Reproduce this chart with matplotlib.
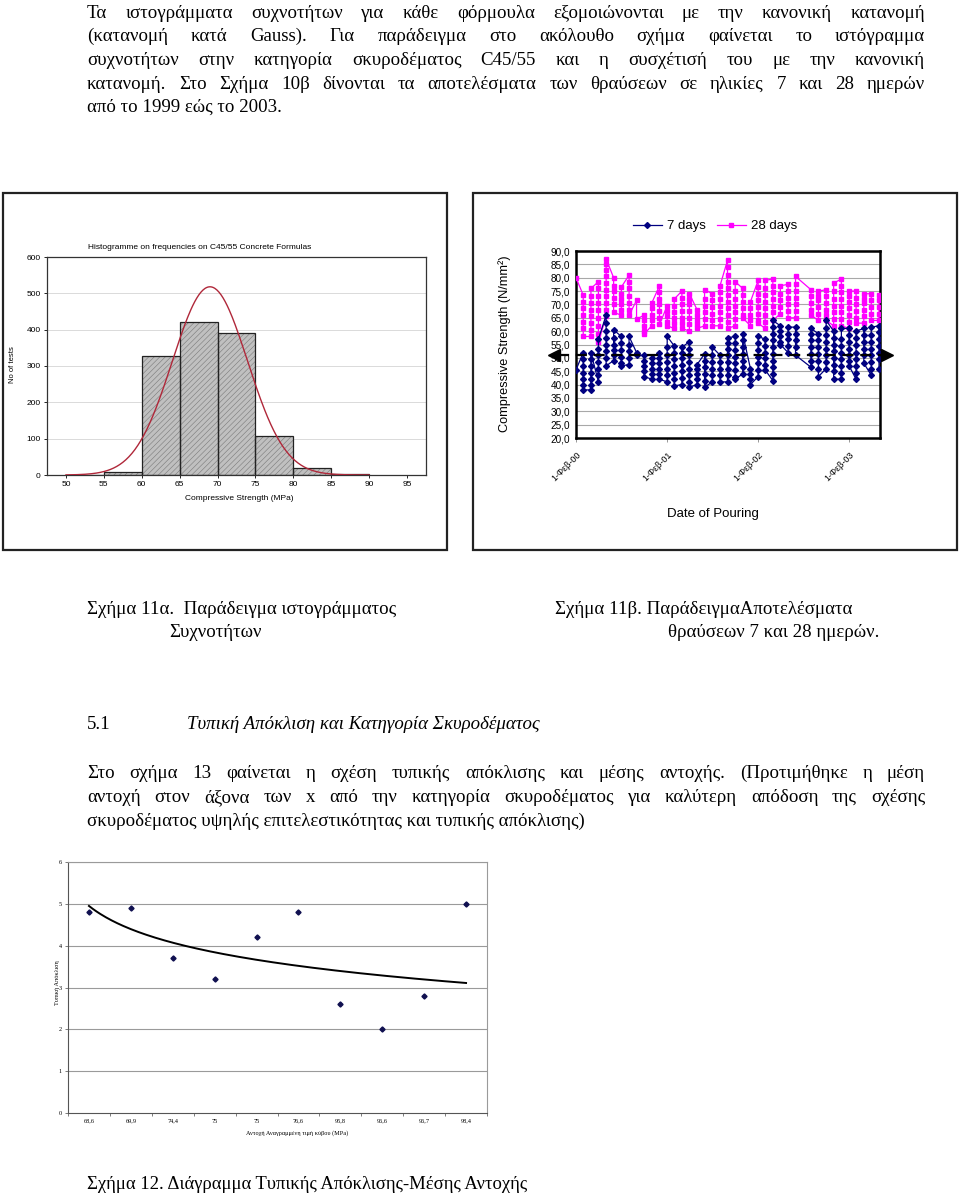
import matplotlib
matplotlib.use('Agg')
import matplotlib.pyplot as plt
import matplotlib.patches as patches
import matplotlib.dates as mdates
import matplotlib.transforms as mtransforms
import numpy as np
import pandas as pd

W, H = 960, 1195

# ---- histogram data (Fig 11a)
bin_edges = [50, 55, 60, 65, 70, 75, 80, 85, 90]
bin_counts = [1, 7, 328, 420, 392, 107, 20, 2]
fit_mean = 69.0
fit_sd = 4.95
fit_peak = 518

# ---- 7 / 28 day results (Fig 11b), month offset from 1-Feb-2000
months_28 = [0, 1, 2, 3, 4, 5, 6, 7, 8, 9, 10, 11, 12, 13, 14, 15, 16, 17, 18, 19, 20,
             21, 22, 23, 24, 25, 26, 27, 28, 29, 31, 32, 33, 34, 35, 36, 37, 38, 39, 40]
vals_28 = [
    [80.0], [73.5, 71, 68.5, 66, 63.5, 61, 58], [58, 60.5, 63, 65.5, 68, 70.5, 73, 76], [78.5, 76, 73, 70.5, 68, 65, 62, 59, 56],
    [65.5, 68, 70.5, 73, 75.5, 78, 80.5, 83, 85, 87], [80, 77, 75, 72.5, 70, 67], [66, 68, 70, 72, 74, 76.5], [81, 78.5, 76, 73, 70.5, 68, 66],
    [71.5, 64.5], [66, 64, 62, 60, 59], [62, 64, 66, 68.5, 70.5], [77, 74.5, 72, 70, 67.5, 65, 62.5],
    [69.5, 67.5, 65.5, 63.5, 62], [61, 63, 65, 67, 69.5, 72], [75, 72.5, 70, 67.5, 65, 63, 61], [60, 62.5, 65, 67.5, 70, 72, 74],
    [68, 66, 64, 62.5, 61], [62, 64.5, 67, 69.5, 72, 75.5], [74, 71.5, 69, 66.5, 64, 62], [62, 64.5, 67, 69.5, 72, 74.5, 77],
    [86.5, 84, 81, 78.5, 76, 73.5, 71, 68.5, 66, 63.5, 61], [62, 64.5, 67, 69.5, 72, 75, 78.5], [76, 73.5, 71, 68.5, 66, 65], [62, 64, 66, 68.5, 71],
    [79, 76.5, 74, 71.5, 69, 66.5, 64, 63], [61, 63.5, 66, 68.5, 71, 73.5, 76, 79], [79.5, 77, 74.5, 72, 69.5, 67, 64], [66.5, 69, 71.5, 74, 77],
    [77.5, 75, 72.5, 70, 67.5, 65], [65, 67.5, 70, 72.5, 75, 77.5, 80.5], [75.5, 73, 70.5, 68, 66], [64, 66.5, 69, 71.5, 73, 75],
    [75.5, 73, 70.5, 68, 66, 64], [62, 64.5, 67, 69.5, 72, 75, 78], [79.5, 77, 74.5, 72, 69.5, 67, 64.5, 62], [61, 63.5, 66, 68.5, 71, 73, 75],
    [75, 72.5, 70, 67.5, 65, 63], [63, 65.5, 68, 70.5, 72, 74], [74, 71.5, 69, 66.5, 64], [64, 66.5, 69, 71.5, 73.5],
]
months_7 = months_28
vals_7 = [
    [45.5], [52, 49.5, 47, 44.5, 42, 40, 38], [38, 40, 42, 44.5, 47, 49.5, 52], [41, 43.5, 46, 48.5, 51, 53.5, 57],
    [66, 63, 60, 57.5, 55, 52.5, 50, 47], [49, 51, 53, 55, 57.5, 60.5], [58, 55.5, 53, 50.5, 48, 47], [47.5, 50, 52.5, 55, 58],
    [52, 51], [51, 49, 47, 45, 43], [42, 44, 46, 48, 50], [52, 50, 48, 46, 44, 42],
    [41, 43.5, 46, 48.5, 51, 54, 58], [54.5, 52, 49.5, 47, 44.5, 42, 39.5], [40, 42.5, 45, 47.5, 50, 52, 54], [56, 53.5, 51, 48.5, 46, 43.5, 41, 39],
    [40, 42, 44, 46, 47.5], [51.5, 49, 46.5, 44, 41.5, 39], [41, 43.5, 46, 48.5, 51, 54], [51, 48.5, 46, 43.5, 41],
    [41, 43.5, 46, 48.5, 51, 53.5, 55.5, 57.5], [58, 55.5, 53, 50.5, 48, 45.5, 43, 42], [44, 46.5, 49, 51.5, 54, 56.5, 59], [46, 44, 42, 40],
    [43, 45.5, 48, 50.5, 53, 55.5, 58], [57, 54.5, 52, 50, 47.5, 45.5], [41.5, 44, 46.5, 49, 51.5, 54, 56.5, 59, 61.5, 64], [62, 60, 58, 56, 55],
    [52, 54.5, 57, 59, 61.5], [61.5, 59, 56.5, 54, 51], [46.5, 49, 51.5, 54, 56.5, 59, 61], [59, 56.5, 54, 51.5, 49, 46, 43],
    [46, 48.5, 51, 53.5, 56, 58.5, 61, 64], [60, 57.5, 55, 52.5, 50, 47.5, 45, 42], [42, 44.5, 47, 49.5, 52, 54.5, 57, 61], [61, 58.5, 56, 53.5, 51, 49, 47],
    [42, 44.5, 47, 49.5, 52, 55, 57.5, 60], [61, 58.5, 56, 53.5, 51, 48], [43.5, 46, 48.5, 51, 53.5, 56, 58.5, 61.5], [62, 59.5, 57, 54.5, 52, 49.5, 46],
]
mean_line = 51.2
date_ticks = ['2000-02-01', '2001-02-01', '2002-02-01', '2003-02-01']
date_labels = ['1-Φεβ-00', '1-Φεβ-01', '1-Φεβ-02', '1-Φεβ-03']

# ---- std deviation vs strength (Fig 12)
strength_labels = ['68,6', '69,9', '74,4', '75', '75', '76,6', '95,8', '96,6', '96,7', '98,4']
std_dev = [4.8, 4.9, 3.7, 3.2, 4.2, 4.8, 2.6, 2.0, 2.8, 5.0]
trend_a = 4.95   # log trendline  y = a + b ln(n)
trend_b = -0.80

# ---- page text
para1 = [
    "Τα ιστογράμματα συχνοτήτων για κάθε φόρμουλα εξομοιώνονται με την κανονική κατανομή",
    "(κατανομή κατά Gauss). Για παράδειγμα στο ακόλουθο σχήμα φαίνεται το ιστόγραμμα",
    "συχνοτήτων στην κατηγορία σκυροδέματος C45/55 και η συσχέτισή του με την κανονική",
    "κατανομή. Στο Σχήμα 10β δίνονται τα αποτελέσματα των θραύσεων σε ηλικίες 7 και 28 ημερών",
    "από το 1999 εώς το 2003.",
]
para2 = [
    "Στο σχήμα 13 φαίνεται η σχέση τυπικής απόκλισης και μέσης αντοχής. (Προτιμήθηκε η μέση",
    "αντοχή στον άξονα των x από την κατηγορία σκυροδέματος για καλύτερη απόδοση της σχέσης",
    "σκυροδέματος υψηλής επιτελεστικότητας και τυπικής απόκλισης)",
]

SERIF = ['Liberation Serif', 'DejaVu Serif']
SANS = ['Liberation Sans', 'DejaVu Sans']
BODY = 13.6

fig = plt.figure(figsize=(W / 100, H / 100), dpi=100)
fig.patch.set_facecolor('white')
renderer = fig.canvas.get_renderer()


def px_axes(x0, y0, x1, y1):
    return fig.add_axes([x0 / W, 1 - y1 / H, (x1 - x0) / W, (y1 - y0) / H])


def ftext(x, y, s, **kw):
    return fig.text(x / W, 1 - y / H, s, **kw)


def justify(line, y, x0, x1, size=BODY):
    words = line.split()
    objs = [ftext(0, y, w, fontsize=size, family=SERIF, va='baseline') for w in words]
    widths = [o.get_window_extent(renderer).width for o in objs]
    gap = (x1 - x0 - sum(widths)) / (len(words) - 1)
    x = x0
    for o, w in zip(objs, widths):
        o.set_x(x / W)
        x += w + gap


LEFT, RIGHT = 87, 925
body_base = [18, 41, 65, 89, 112]
for i, line in enumerate(para1):
    if i < len(para1) - 1:
        justify(line, body_base[i], LEFT, RIGHT)
    else:
        ftext(LEFT, body_base[i], line, fontsize=BODY, family=SERIF, va='baseline')

# panel frames
for (bx0, by0, bx1, by1) in [(3, 193, 447, 550), (473, 193, 957, 550)]:
    fig.add_artist(patches.Rectangle((bx0 / W, 1 - by1 / H), (bx1 - bx0) / W, (by1 - by0) / H,
                                     transform=fig.transFigure, fill=False, lw=1.6, ec='#222222'))

# ================= histogram
plt.rcParams['hatch.linewidth'] = 0.4
ax1 = px_axes(47, 257, 426, 475)
lefts = bin_edges[:-1]
ax1.bar(lefts, bin_counts, width=5, align='edge', color='#c0c0c0', edgecolor='#7a7a7a',
        hatch='//////', lw=0, zorder=2)
ax1.bar(lefts, bin_counts, width=5, align='edge', fill=False, edgecolor='#222222', lw=0.9, zorder=3)
xs = np.linspace(50, 90, 300)
ax1.plot(xs, fit_peak * np.exp(-(xs - fit_mean) ** 2 / (2 * fit_sd ** 2)), color='#b0283a', lw=1.0, zorder=4)
ax1.set_xlim(47.5, 97.5)
ax1.set_ylim(0, 600)
ax1.set_xticks(range(50, 100, 5))
ax1.set_yticks(range(0, 700, 100))
for yv in range(100, 600, 100):
    ax1.axhline(yv, color='#d4d4d4', lw=0.6, zorder=1)
ax1.tick_params(labelsize=6, length=2.5, width=0.6, pad=2)
for lbl in ax1.get_xticklabels() + ax1.get_yticklabels():
    lbl.set_family(SANS)
for sp in ax1.spines.values():
    sp.set_linewidth(0.9)
    sp.set_color('#333333')
ftext(200, 247, 'Histogramme on frequencies on C45/55 Concrete Formulas', fontsize=6, family=SANS,
      ha='center', va='center')
ftext(239, 498, 'Compressive Strength (MPa)', fontsize=6, family=SANS, ha='center', va='center')
ftext(13, 365, 'No of tests', fontsize=5.5, family=SANS, ha='center', va='center', rotation=90)

# ================= 7 / 28 days
ax2 = px_axes(576, 251, 880, 438)
start = pd.Timestamp('2000-02-01')


def flatten(months, vals):
    xs_, ys_ = [], []
    for m, vv in zip(months, vals):
        d = start + pd.DateOffset(months=m)
        for v in vv:
            xs_.append(d)
            ys_.append(v)
    return xs_, ys_


x28, y28 = flatten(months_28, vals_28)
x7, y7 = flatten(months_7, vals_7)
ax2.plot(x28, y28, color='#ff00ff', lw=0.9, marker='s', ms=3.2, mec='#ff00ff', label='28 days', zorder=3)
ax2.plot(x7, y7, color='#000080', lw=0.9, marker='D', ms=3.0, mec='#000080', label='7 days', zorder=4)
ax2.set_ylim(20, 90)
ax2.set_xlim(mdates.date2num(pd.Timestamp('2000-02-01')), mdates.date2num(pd.Timestamp('2003-06-05')))
ax2.set_yticks(range(20, 95, 5))
ax2.set_yticklabels([f'{v},0' for v in range(20, 95, 5)], family=SANS, fontsize=7.2)
ax2.yaxis.grid(True, color='#a8a8a8', lw=0.8)
ax2.set_axisbelow(True)
ax2.tick_params(axis='y', length=0, pad=4)
ax2.set_xticks([mdates.date2num(pd.Timestamp(d)) for d in date_ticks])
ax2.set_xticklabels(date_labels, rotation=45, ha='right', rotation_mode='anchor', family=SANS, fontsize=6.5)
ax2.tick_params(axis='x', length=3, width=0.6, pad=6, color='#888888')
for sp in ax2.spines.values():
    sp.set_linewidth(1.8)
    sp.set_color('black')
blend = mtransforms.blended_transform_factory(ax2.transAxes, ax2.transData)
ax2.plot([-0.06, 1.01], [mean_line, mean_line], transform=blend, color='black', lw=1.6,
         ls=(0, (5, 3)), clip_on=False, zorder=6)
ax2.plot([-0.072], [mean_line], transform=blend, marker='<', ms=8, color='black', clip_on=False, zorder=6)
ax2.plot([1.023], [mean_line], transform=blend, marker='>', ms=8, color='black', clip_on=False, zorder=6)
h, l = ax2.get_legend_handles_labels()
ax2.legend(h[::-1], l[::-1], loc='center', bbox_to_anchor=(715 / W, 1 - 226 / H),
           bbox_transform=fig.transFigure, ncol=2, frameon=False, prop={'family': SANS, 'size': 9.5},
           handlelength=2.2, handletextpad=0.4, columnspacing=0.8)
ftext(505, 344, 'Compressive Strength (N/mm²)', fontsize=9.2, family=SANS, ha='center', va='center',
      rotation=90)
ftext(713, 514, 'Date of Pouring', fontsize=9.5, family=SANS, ha='center', va='center')

# captions
ftext(LEFT, 614, 'Σχήμα 11α.  Παράδειγμα ιστογράμματος', fontsize=BODY, family=SERIF, va='baseline')
ftext(216, 637, 'Συχνοτήτων', fontsize=BODY, family=SERIF, va='baseline', ha='center')
ftext(555, 614, 'Σχήμα 11β. ΠαράδειγμαΑποτελέσματα', fontsize=BODY, family=SERIF, va='baseline')
ftext(879, 637, 'θραύσεων 7 και 28 ημερών.', fontsize=BODY, family=SERIF, va='baseline', ha='right')

ftext(LEFT, 729, '5.1', fontsize=BODY, family=SERIF, va='baseline')
ftext(187, 729, 'Τυπική Απόκλιση και Κατηγορία Σκυροδέματος', fontsize=BODY, family=SERIF,
      style='italic', va='baseline')

p2_base = [778, 802, 826]
for i, line in enumerate(para2):
    if i < len(para2) - 1:
        justify(line, p2_base[i], LEFT, RIGHT)
    else:
        ftext(LEFT, p2_base[i], line, fontsize=BODY, family=SERIF, va='baseline')

# ================= std dev chart
ax3 = px_axes(68, 862, 487, 1113)
pos = np.arange(len(std_dev))
for yv in range(1, 7):
    ax3.axhline(yv, color='#9a9a9a', lw=0.8, zorder=1)
ax3.plot(pos, std_dev, ls='none', marker='D', ms=2.6, color='#101050', zorder=3)
tx = np.linspace(0, len(std_dev) - 1, 200)
ax3.plot(tx, trend_a + trend_b * np.log(tx + 1), color='black', lw=1.4, zorder=2)
ax3.set_xlim(-0.5, len(std_dev) - 0.5)
ax3.set_ylim(0, 6)
ax3.set_yticks(range(0, 7))
ax3.set_yticklabels([str(v) for v in range(0, 7)], family=SERIF, fontsize=4.5)
ax3.set_xticks(pos)
ax3.set_xticklabels(strength_labels, family=SERIF, fontsize=4.5)
ax3.set_xticks(np.arange(-0.5, len(std_dev)), minor=True)
ax3.tick_params(axis='x', which='major', length=0, pad=4)
ax3.tick_params(axis='x', which='minor', length=2.5, width=0.6, color='#666666')
ax3.tick_params(axis='y', length=2.5, width=0.6, pad=2, color='#666666')
for name, sp in ax3.spines.items():
    sp.set_linewidth(0.8)
    sp.set_color('#555555' if name in ('left', 'bottom') else '#9a9a9a')
ftext(297, 1133, 'Αντοχή Αναγραμμένη τιμή κύβου (MPa)', fontsize=4.5, family=SERIF, ha='center', va='center')
ftext(58, 983, 'Τυπική Απόκλιση', fontsize=4.5, family=SERIF, ha='center', va='center', rotation=90)

ftext(LEFT, 1189, 'Σχήμα 12. Διάγραμμα Τυπικής Απόκλισης-Μέσης Αντοχής', fontsize=13.4, family=SERIF,
      va='baseline')

fig.savefig('out.png', dpi=100)
